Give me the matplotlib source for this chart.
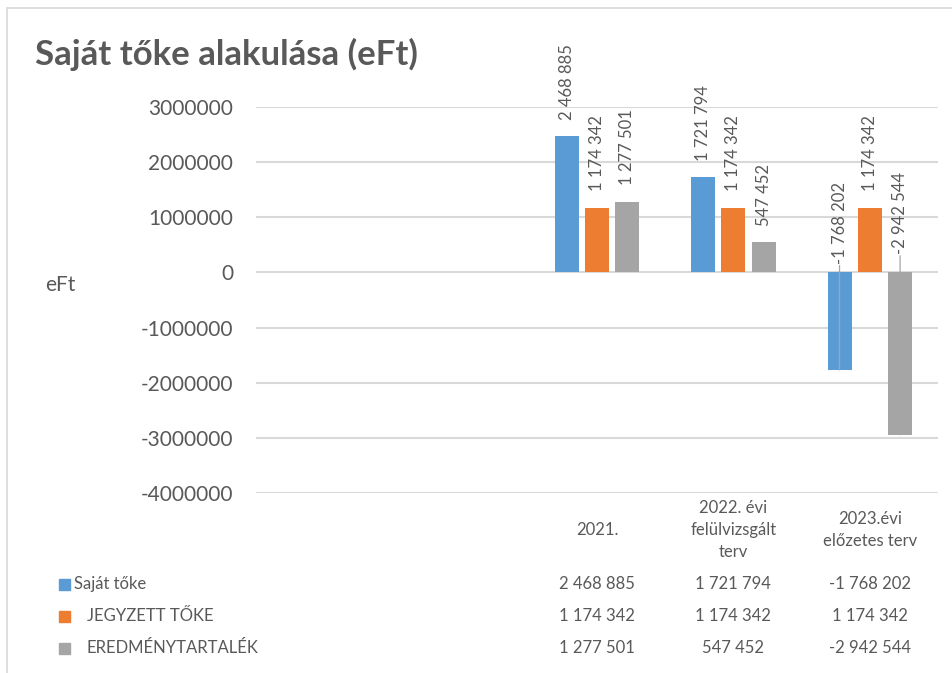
import matplotlib
matplotlib.use("Agg")
import matplotlib.pyplot as plt
import matplotlib.transforms as mtransforms
from matplotlib.patches import Rectangle
import numpy as np

# ---------------- data ----------------
categories = ["", "", "2021.", "2022. évi\nfelülvizsgált\nterv", "2023.évi\nelőzetes terv"]
series_names = ["Saját tőke", "JEGYZETT TŐKE", "EREDMÉNYTARTALÉK"]
saját_tőke = [np.nan, np.nan, 2468885, 1721794, -1768202]
jegyzett_tőke = [np.nan, np.nan, 1174342, 1174342, 1174342]
eredménytartalék = [np.nan, np.nan, 1277501, 547452, -2942544]
y_ticks = [-4000000, -3000000, -2000000, -1000000, 0, 1000000, 2000000, 3000000]
title = "Saját tőke alakulása (eFt)"
y_label = "eFt"

series = [saját_tőke, jegyzett_tőke, eredménytartalék]
colors = ["#5B9BD5", "#ED7D31", "#A5A5A5"]

# ---------------- style ----------------
FONT = ["Lato", "DejaVu Sans"]
plt.rcParams["font.family"] = FONT
TXT = "#595959"
GRID = "#D9D9D9"

W, H = 953, 673
fig = plt.figure(figsize=(W / 100, H / 100), dpi=100)

def fx(px):
    return px / W

def fy(py):
    return 1 - py / H

# chart border
fig.patches.append(Rectangle((fx(7), fy(700)), fx(980), fy(8) - fy(700),
                             transform=fig.transFigure, fill=False,
                             edgecolor="#D9D9D9", linewidth=1.2))

ax = fig.add_axes([fx(256), fy(493), fx(938) - fx(256), fy(107) - fy(493)])
ax.set_xlim(-0.5, len(categories) - 0.5)
ax.set_ylim(-4000000, 3000000)
ax.set_yticks(y_ticks)
ax.set_yticklabels([str(t) for t in y_ticks])
ax.tick_params(axis="y", length=0, pad=16.5, labelsize=15, labelcolor=TXT)
ax.tick_params(axis="x", length=0, labelbottom=False)
for s in ax.spines.values():
    s.set_visible(False)
ax.grid(axis="y", color=GRID, linewidth=1.5)
ax.set_axisbelow(True)

x = np.arange(len(categories))
bar_w = 0.176
step = 0.222
offsets = [-step, 0, step]

def fmt(v):
    return "{:,}".format(int(v)).replace(",", " ")

neg_label_offsets = {0: 6, 2: 13}  # points above zero line for negative labels
LEADER = "#A5A5A5"

for si, (vals, col) in enumerate(zip(series, colors)):
    xs = x + offsets[si]
    ax.bar(xs, vals, width=bar_w, color=col, zorder=2)
    for xi, v in zip(xs, vals):
        if np.isnan(v):
            continue
        label = fmt(v)
        if v >= 0:
            ax.annotate(label, (xi, v), xytext=(0, 12), textcoords="offset points",
                        rotation=90, ha="center", va="bottom", fontsize=12,
                        color=TXT, annotation_clip=False)
        else:
            off = neg_label_offsets.get(si, 8)
            ax.annotate(label, (xi, 0), xytext=(0, off), textcoords="offset points",
                        rotation=90, ha="center", va="bottom", fontsize=12,
                        color=TXT, annotation_clip=False)
            # leader line: label bottom -> zero line -> bar end
            ax.annotate("", xy=(xi, 0), xytext=(0, off - 1), textcoords="offset points",
                        arrowprops=dict(arrowstyle="-", color=LEADER, lw=0.9,
                                        shrinkA=0, shrinkB=0),
                        annotation_clip=False, zorder=3)
            ax.annotate("", xy=(xi, v), xytext=(xi, 0), textcoords="data",
                        arrowprops=dict(arrowstyle="-", color=LEADER, lw=0.9,
                                        shrinkA=0, shrinkB=0),
                        annotation_clip=False, zorder=3)

# title and axis title
fig.text(fx(35), fy(54), title, fontsize=25, fontweight="bold", color=TXT,
         ha="left", va="center")
fig.text(fx(45), fy(285), y_label, fontsize=15, color=TXT, ha="left", va="center")

# data table
blend = mtransforms.blended_transform_factory(ax.transData, fig.transFigure)
for xi, cat in zip(x, categories):
    if cat:
        ax.text(xi, fy(530), cat, transform=blend, ha="center", va="center",
                fontsize=12, color=TXT, linespacing=1.45)

row_y = [584, 616, 648]
name_x = [74, 87, 87]
for si, (vals, col) in enumerate(zip(series, colors)):
    fig.patches.append(Rectangle((fx(59), fy(row_y[si] + 5.5)), fx(11), fy(0) - fy(11),
                                 transform=fig.transFigure, color=col))
    fig.text(fx(name_x[si]), fy(row_y[si]), series_names[si], fontsize=12,
             color=TXT, ha="left", va="center")
    for xi, v in zip(x, vals):
        if np.isnan(v):
            continue
        ax.text(xi, fy(row_y[si]), fmt(v), transform=blend, ha="center",
                va="center", fontsize=12, color=TXT)

fig.savefig("out.png", dpi=100)
